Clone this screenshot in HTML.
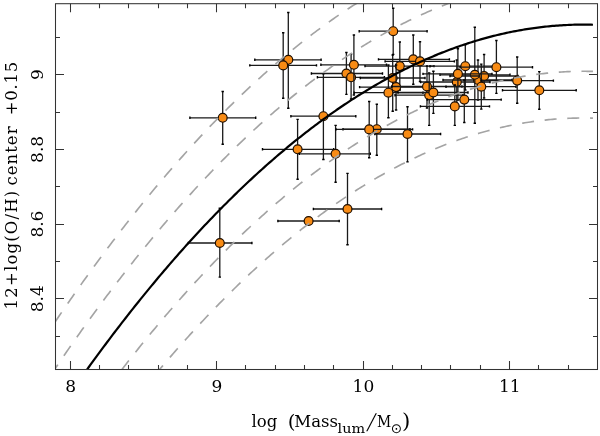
<!DOCTYPE html>
<html><head><meta charset="utf-8"><style>
html,body{margin:0;padding:0;background:#fff;width:600px;height:436px;overflow:hidden}
svg{display:block;will-change:transform}
</style></head><body>
<svg width="600" height="436" viewBox="0 0 600 436">
<defs><clipPath id="c"><rect x="55.5" y="3.7" width="542.0" height="365.8"/></clipPath></defs>
<path d="M188.3,243.0H251.9M219.8,208.3V277.1" stroke="#1a1a1a" stroke-width="1.3" fill="none"/><path d="M188.3,241.8V244.2M251.9,241.8V244.2M218.6,208.3H221.0M218.6,277.1H221.0" stroke="#000" stroke-width="1.4" fill="none"/>
<circle cx="219.8" cy="243.0" r="4.45" fill="#f88b14" stroke="#1e0e00" stroke-width="1.2"/>
<path d="M189.9,117.8H255.7M222.7,91.5V144.2" stroke="#1a1a1a" stroke-width="1.3" fill="none"/><path d="M189.9,116.6V119.0M255.7,116.6V119.0M221.5,91.5H223.9M221.5,144.2H223.9" stroke="#000" stroke-width="1.4" fill="none"/>
<circle cx="222.7" cy="117.8" r="4.45" fill="#f88b14" stroke="#1e0e00" stroke-width="1.2"/>
<path d="M262.5,149.3H333.7M297.6,119.4V179.2" stroke="#1a1a1a" stroke-width="1.3" fill="none"/><path d="M262.5,148.1V150.5M333.7,148.1V150.5M296.4,119.4H298.8M296.4,179.2H298.8" stroke="#000" stroke-width="1.4" fill="none"/>
<circle cx="297.6" cy="149.3" r="4.45" fill="#f88b14" stroke="#1e0e00" stroke-width="1.2"/>
<path d="M299.3,153.8H370.3M335.6,125.4V182.2" stroke="#1a1a1a" stroke-width="1.3" fill="none"/><path d="M299.3,152.6V155.0M370.3,152.6V155.0M334.4,125.4H336.8M334.4,182.2H336.8" stroke="#000" stroke-width="1.4" fill="none"/>
<circle cx="335.6" cy="153.8" r="4.45" fill="#f88b14" stroke="#1e0e00" stroke-width="1.2"/>
<path d="M290.9,116.2H355.8M323.4,73.8V159.5" stroke="#1a1a1a" stroke-width="1.3" fill="none"/><path d="M290.9,115.0V117.4M355.8,115.0V117.4M322.2,73.8H324.6M322.2,159.5H324.6" stroke="#000" stroke-width="1.4" fill="none"/>
<circle cx="323.4" cy="116.2" r="4.45" fill="#f88b14" stroke="#1e0e00" stroke-width="1.2"/>
<path d="M254.8,59.8H321.1M288.3,12.5V108.3" stroke="#1a1a1a" stroke-width="1.3" fill="none"/><path d="M254.8,58.6V61.0M321.1,58.6V61.0M287.1,12.5H289.5M287.1,108.3H289.5" stroke="#000" stroke-width="1.4" fill="none"/>
<circle cx="288.3" cy="59.8" r="4.45" fill="#f88b14" stroke="#1e0e00" stroke-width="1.2"/>
<path d="M249.8,65.4H316.5M283.2,32.7V98.3" stroke="#1a1a1a" stroke-width="1.3" fill="none"/><path d="M249.8,64.2V66.6M316.5,64.2V66.6M282.0,32.7H284.4M282.0,98.3H284.4" stroke="#000" stroke-width="1.4" fill="none"/>
<circle cx="283.2" cy="65.4" r="4.45" fill="#f88b14" stroke="#1e0e00" stroke-width="1.2"/>
<path d="M311.4,73.5H382.5M346.4,52.5V94.4" stroke="#1a1a1a" stroke-width="1.3" fill="none"/><path d="M311.4,72.3V74.7M382.5,72.3V74.7M345.2,52.5H347.6M345.2,94.4H347.6" stroke="#000" stroke-width="1.4" fill="none"/>
<circle cx="346.4" cy="73.5" r="4.45" fill="#f88b14" stroke="#1e0e00" stroke-width="1.2"/>
<path d="M317.4,77.3H384.4M351.1,54.1V99.0" stroke="#1a1a1a" stroke-width="1.3" fill="none"/><path d="M317.4,76.1V78.5M384.4,76.1V78.5M349.9,54.1H352.3M349.9,99.0H352.3" stroke="#000" stroke-width="1.4" fill="none"/>
<circle cx="351.1" cy="77.3" r="4.45" fill="#f88b14" stroke="#1e0e00" stroke-width="1.2"/>
<path d="M320.9,64.8H386.5M353.9,35.0V95.0" stroke="#1a1a1a" stroke-width="1.3" fill="none"/><path d="M320.9,63.6V66.0M386.5,63.6V66.0M352.7,35.0H355.1M352.7,95.0H355.1" stroke="#000" stroke-width="1.4" fill="none"/>
<circle cx="353.9" cy="64.8" r="4.45" fill="#f88b14" stroke="#1e0e00" stroke-width="1.2"/>
<path d="M359.2,31.2H427.1M393.2,8.3V54.4" stroke="#1a1a1a" stroke-width="1.3" fill="none"/><path d="M359.2,30.0V32.4M427.1,30.0V32.4M392.0,8.3H394.4M392.0,54.4H394.4" stroke="#000" stroke-width="1.4" fill="none"/>
<circle cx="393.2" cy="31.2" r="4.45" fill="#f88b14" stroke="#1e0e00" stroke-width="1.2"/>
<path d="M365.0,66.1H434.0M399.8,42.0V90.0" stroke="#1a1a1a" stroke-width="1.3" fill="none"/><path d="M365.0,64.9V67.3M434.0,64.9V67.3M398.6,42.0H401.0M398.6,90.0H401.0" stroke="#000" stroke-width="1.4" fill="none"/>
<circle cx="399.8" cy="66.1" r="4.45" fill="#f88b14" stroke="#1e0e00" stroke-width="1.2"/>
<path d="M378.5,59.4H449.4M413.3,35.0V84.3" stroke="#1a1a1a" stroke-width="1.3" fill="none"/><path d="M378.5,58.2V60.6M449.4,58.2V60.6M412.1,35.0H414.5M412.1,84.3H414.5" stroke="#000" stroke-width="1.4" fill="none"/>
<circle cx="413.3" cy="59.4" r="4.45" fill="#f88b14" stroke="#1e0e00" stroke-width="1.2"/>
<path d="M385.1,61.4H454.4M420.0,41.7V81.5" stroke="#1a1a1a" stroke-width="1.3" fill="none"/><path d="M385.1,60.2V62.6M454.4,60.2V62.6M418.8,41.7H421.2M418.8,81.5H421.2" stroke="#000" stroke-width="1.4" fill="none"/>
<circle cx="420.0" cy="61.4" r="4.45" fill="#f88b14" stroke="#1e0e00" stroke-width="1.2"/>
<path d="M360.3,78.0H425.0M392.7,55.0V111.3" stroke="#1a1a1a" stroke-width="1.3" fill="none"/><path d="M360.3,76.8V79.2M425.0,76.8V79.2M391.5,55.0H393.9M391.5,111.3H393.9" stroke="#000" stroke-width="1.4" fill="none"/>
<circle cx="392.7" cy="78.0" r="4.45" fill="#f88b14" stroke="#1e0e00" stroke-width="1.2"/>
<path d="M359.6,87.1H430.0M396.1,65.0V110.0" stroke="#1a1a1a" stroke-width="1.3" fill="none"/><path d="M359.6,85.9V88.3M430.0,85.9V88.3M394.9,65.0H397.3M394.9,110.0H397.3" stroke="#000" stroke-width="1.4" fill="none"/>
<circle cx="396.1" cy="87.1" r="4.45" fill="#f88b14" stroke="#1e0e00" stroke-width="1.2"/>
<path d="M354.2,92.7H423.0M388.4,65.0V117.8" stroke="#1a1a1a" stroke-width="1.3" fill="none"/><path d="M354.2,91.5V93.9M423.0,91.5V93.9M387.2,65.0H389.6M387.2,117.8H389.6" stroke="#000" stroke-width="1.4" fill="none"/>
<circle cx="388.4" cy="92.7" r="4.45" fill="#f88b14" stroke="#1e0e00" stroke-width="1.2"/>
<path d="M392.0,86.5H462.0M427.0,66.0V108.0" stroke="#1a1a1a" stroke-width="1.3" fill="none"/><path d="M392.0,85.3V87.7M462.0,85.3V87.7M425.8,66.0H428.2M425.8,108.0H428.2" stroke="#000" stroke-width="1.4" fill="none"/>
<circle cx="427.0" cy="86.5" r="4.45" fill="#f88b14" stroke="#1e0e00" stroke-width="1.2"/>
<path d="M395.0,95.2H463.0M429.2,73.0V125.4" stroke="#1a1a1a" stroke-width="1.3" fill="none"/><path d="M395.0,94.0V96.4M463.0,94.0V96.4M428.0,73.0H430.4M428.0,125.4H430.4" stroke="#000" stroke-width="1.4" fill="none"/>
<circle cx="429.2" cy="95.2" r="4.45" fill="#f88b14" stroke="#1e0e00" stroke-width="1.2"/>
<path d="M398.0,92.5H468.0M433.4,71.2V113.4" stroke="#1a1a1a" stroke-width="1.3" fill="none"/><path d="M398.0,91.3V93.7M468.0,91.3V93.7M432.2,71.2H434.6M432.2,113.4H434.6" stroke="#000" stroke-width="1.4" fill="none"/>
<circle cx="433.4" cy="92.5" r="4.45" fill="#f88b14" stroke="#1e0e00" stroke-width="1.2"/>
<path d="M430.0,66.2H500.0M465.3,44.7V90.0" stroke="#1a1a1a" stroke-width="1.3" fill="none"/><path d="M430.0,65.0V67.4M500.0,65.0V67.4M464.1,44.7H466.5M464.1,90.0H466.5" stroke="#000" stroke-width="1.4" fill="none"/>
<circle cx="465.3" cy="66.2" r="4.45" fill="#f88b14" stroke="#1e0e00" stroke-width="1.2"/>
<path d="M420.6,82.0H490.0M456.8,60.0V106.0" stroke="#1a1a1a" stroke-width="1.3" fill="none"/><path d="M420.6,80.8V83.2M490.0,80.8V83.2M455.6,60.0H458.0M455.6,106.0H458.0" stroke="#000" stroke-width="1.4" fill="none"/>
<circle cx="456.8" cy="82.0" r="4.45" fill="#f88b14" stroke="#1e0e00" stroke-width="1.2"/>
<path d="M443.0,80.0H512.0M478.0,60.0V100.0" stroke="#1a1a1a" stroke-width="1.3" fill="none"/><path d="M443.0,78.8V81.2M512.0,78.8V81.2M476.8,60.0H479.2M476.8,100.0H479.2" stroke="#000" stroke-width="1.4" fill="none"/>
<circle cx="478.0" cy="80.0" r="4.45" fill="#f88b14" stroke="#1e0e00" stroke-width="1.2"/>
<path d="M440.0,74.8H510.0M474.8,27.3V123.2" stroke="#1a1a1a" stroke-width="1.3" fill="none"/><path d="M440.0,73.6V76.0M510.0,73.6V76.0M473.6,27.3H476.0M473.6,123.2H476.0" stroke="#000" stroke-width="1.4" fill="none"/>
<circle cx="474.8" cy="74.8" r="4.45" fill="#f88b14" stroke="#1e0e00" stroke-width="1.2"/>
<path d="M450.0,76.0H518.0M484.1,54.5V98.0" stroke="#1a1a1a" stroke-width="1.3" fill="none"/><path d="M450.0,74.8V77.2M518.0,74.8V77.2M482.9,54.5H485.3M482.9,98.0H485.3" stroke="#000" stroke-width="1.4" fill="none"/>
<circle cx="484.1" cy="76.0" r="4.45" fill="#f88b14" stroke="#1e0e00" stroke-width="1.2"/>
<path d="M423.0,73.9H492.0M457.9,48.7V100.0" stroke="#1a1a1a" stroke-width="1.3" fill="none"/><path d="M423.0,72.7V75.1M492.0,72.7V75.1M456.7,48.7H459.1M456.7,100.0H459.1" stroke="#000" stroke-width="1.4" fill="none"/>
<circle cx="457.9" cy="73.9" r="4.45" fill="#f88b14" stroke="#1e0e00" stroke-width="1.2"/>
<path d="M446.0,86.7H516.0M481.3,64.1V109.1" stroke="#1a1a1a" stroke-width="1.3" fill="none"/><path d="M446.0,85.5V87.9M516.0,85.5V87.9M480.1,64.1H482.5M480.1,109.1H482.5" stroke="#000" stroke-width="1.4" fill="none"/>
<circle cx="481.3" cy="86.7" r="4.45" fill="#f88b14" stroke="#1e0e00" stroke-width="1.2"/>
<path d="M460.0,67.2H532.5M496.4,40.5V93.4" stroke="#1a1a1a" stroke-width="1.3" fill="none"/><path d="M460.0,66.0V68.4M532.5,66.0V68.4M495.2,40.5H497.6M495.2,93.4H497.6" stroke="#000" stroke-width="1.4" fill="none"/>
<circle cx="496.4" cy="67.2" r="4.45" fill="#f88b14" stroke="#1e0e00" stroke-width="1.2"/>
<path d="M481.0,80.6H553.4M517.2,57.0V103.3" stroke="#1a1a1a" stroke-width="1.3" fill="none"/><path d="M481.0,79.4V81.8M553.4,79.4V81.8M516.0,57.0H518.4M516.0,103.3H518.4" stroke="#000" stroke-width="1.4" fill="none"/>
<circle cx="517.2" cy="80.6" r="4.45" fill="#f88b14" stroke="#1e0e00" stroke-width="1.2"/>
<path d="M502.5,90.3H576.2M539.3,71.6V109.2" stroke="#1a1a1a" stroke-width="1.3" fill="none"/><path d="M502.5,89.1V91.5M576.2,89.1V91.5M538.1,71.6H540.5M538.1,109.2H540.5" stroke="#000" stroke-width="1.4" fill="none"/>
<circle cx="539.3" cy="90.3" r="4.45" fill="#f88b14" stroke="#1e0e00" stroke-width="1.2"/>
<path d="M427.2,99.6H501.2M464.3,80.0V122.5" stroke="#1a1a1a" stroke-width="1.3" fill="none"/><path d="M427.2,98.4V100.8M501.2,98.4V100.8M463.1,80.0H465.5M463.1,122.5H465.5" stroke="#000" stroke-width="1.4" fill="none"/>
<circle cx="464.3" cy="99.6" r="4.45" fill="#f88b14" stroke="#1e0e00" stroke-width="1.2"/>
<path d="M420.4,106.4H489.5M454.8,85.0V125.4" stroke="#1a1a1a" stroke-width="1.3" fill="none"/><path d="M420.4,105.2V107.6M489.5,105.2V107.6M453.6,85.0H456.0M453.6,125.4H456.0" stroke="#000" stroke-width="1.4" fill="none"/>
<circle cx="454.8" cy="106.4" r="4.45" fill="#f88b14" stroke="#1e0e00" stroke-width="1.2"/>
<path d="M374.8,134.0H440.6M407.5,106.8V161.9" stroke="#1a1a1a" stroke-width="1.3" fill="none"/><path d="M374.8,132.8V135.2M440.6,132.8V135.2M406.3,106.8H408.7M406.3,161.9H408.7" stroke="#000" stroke-width="1.4" fill="none"/>
<circle cx="407.5" cy="134.0" r="4.45" fill="#f88b14" stroke="#1e0e00" stroke-width="1.2"/>
<path d="M343.0,129.2H410.0M376.8,104.2V155.2" stroke="#1a1a1a" stroke-width="1.3" fill="none"/><path d="M343.0,128.0V130.4M410.0,128.0V130.4M375.6,104.2H378.0M375.6,155.2H378.0" stroke="#000" stroke-width="1.4" fill="none"/>
<circle cx="376.8" cy="129.2" r="4.45" fill="#f88b14" stroke="#1e0e00" stroke-width="1.2"/>
<path d="M336.0,129.4H412.6M369.2,101.5V157.8" stroke="#1a1a1a" stroke-width="1.3" fill="none"/><path d="M336.0,128.2V130.6M412.6,128.2V130.6M368.0,101.5H370.4M368.0,157.8H370.4" stroke="#000" stroke-width="1.4" fill="none"/>
<circle cx="369.2" cy="129.4" r="4.45" fill="#f88b14" stroke="#1e0e00" stroke-width="1.2"/>
<path d="M313.4,209.0H381.6M347.5,173.4V244.7" stroke="#1a1a1a" stroke-width="1.3" fill="none"/><path d="M313.4,207.8V210.2M381.6,207.8V210.2M346.3,173.4H348.7M346.3,244.7H348.7" stroke="#000" stroke-width="1.4" fill="none"/>
<circle cx="347.5" cy="209.0" r="4.45" fill="#f88b14" stroke="#1e0e00" stroke-width="1.2"/>
<path d="M277.9,221.0H339.2M308.6,221.0V221.0" stroke="#1a1a1a" stroke-width="1.3" fill="none"/><path d="M277.9,219.8V222.2M339.2,219.8V222.2M307.4,221.0H309.8M307.4,221.0H309.8" stroke="#000" stroke-width="1.4" fill="none"/>
<circle cx="308.6" cy="221.0" r="4.45" fill="#f88b14" stroke="#1e0e00" stroke-width="1.2"/>
<g clip-path="url(#c)" fill="none">
<path d="M41.02,343.03 L42.86,340.24 L44.70,337.46 L46.54,334.69 L48.38,331.94 L50.22,329.19 L52.06,326.44 L53.90,323.71 L55.74,320.99 L57.58,318.28 L59.42,315.58 L61.26,312.89 L63.10,310.20 L64.94,307.53 L66.78,304.86 L68.62,302.21 L70.46,299.56 L72.30,296.93 L74.14,294.30 L75.98,291.68 L77.82,289.07 L79.65,286.48 L81.49,283.89 L83.33,281.31 L85.17,278.74 L87.01,276.18 L88.85,273.63 L90.69,271.08 L92.53,268.55 L94.37,266.03 L96.21,263.52 L98.05,261.01 L99.89,258.52 L101.73,256.03 L103.57,253.56 L105.41,251.09 L107.25,248.64 L109.09,246.19 L110.93,243.75 L112.77,241.32 L114.61,238.91 L116.45,236.50 L118.29,234.10 L120.13,231.71 L121.97,229.33 L123.81,226.96 L125.65,224.59 L127.49,222.24 L129.33,219.90 L131.17,217.57 L133.01,215.24 L134.85,212.93 L136.69,210.62 L138.53,208.33 L140.37,206.04 L142.21,203.76 L144.05,201.50 L145.89,199.24 L147.73,196.99 L149.57,194.75 L151.41,192.52 L153.25,190.30 L155.09,188.09 L156.92,185.89 L158.76,183.70 L160.60,181.52 L162.44,179.35 L164.28,177.19 L166.12,175.03 L167.96,172.89 L169.80,170.75 L171.64,168.63 L173.48,166.51 L175.32,164.41 L177.16,162.31 L179.00,160.22 L180.84,158.15 L182.68,156.08 L184.52,154.02 L186.36,151.97 L188.20,149.93 L190.04,147.90 L191.88,145.88 L193.72,143.87 L195.56,141.87 L197.40,139.87 L199.24,137.89 L201.08,135.92 L202.92,133.95 L204.76,132.00 L206.60,130.05 L208.44,128.12 L210.28,126.19 L212.12,124.28 L213.96,122.37 L215.80,120.47 L217.64,118.58 L219.48,116.70 L221.32,114.83 L223.16,112.97 L225.00,111.12 L226.84,109.28 L228.68,107.45 L230.52,105.63 L232.36,103.82 L234.19,102.01 L236.03,100.22 L237.87,98.44 L239.71,96.66 L241.55,94.90 L243.39,93.14 L245.23,91.39 L247.07,89.66 L248.91,87.93 L250.75,86.21 L252.59,84.50 L254.43,82.80 L256.27,81.12 L258.11,79.44 L259.95,77.77 L261.79,76.10 L263.63,74.45 L265.47,72.81 L267.31,71.18 L269.15,69.55 L270.99,67.94 L272.83,66.34 L274.67,64.74 L276.51,63.16 L278.35,61.58 L280.19,60.01 L282.03,58.46 L283.87,56.91 L285.71,55.37 L287.55,53.84 L289.39,52.32 L291.23,50.82 L293.07,49.32 L294.91,47.82 L296.75,46.34 L298.59,44.87 L300.43,43.41 L302.27,41.96 L304.11,40.51 L305.95,39.08 L307.79,37.66 L309.62,36.24 L311.46,34.84 L313.30,33.44 L315.14,32.05 L316.98,30.68 L318.82,29.31 L320.66,27.95 L322.50,26.60 L324.34,25.26 L326.18,23.93 L328.02,22.61 L329.86,21.30 L331.70,20.00 L333.54,18.71 L335.38,17.43 L337.22,16.15 L339.06,14.89 L340.90,13.64 L342.74,12.39 L344.58,11.16 L346.42,9.93 L348.26,8.72 L350.10,7.51 L351.94,6.31 L353.78,5.12 L355.62,3.95 L357.46,2.78 L359.30,1.62 L361.14,0.47 L362.98,-0.67 L364.82,-1.80 L366.66,-2.92 L368.50,-4.04 L370.34,-5.14 L372.18,-6.23 L374.02,-7.31 L375.86,-8.39 L377.70,-9.45 L379.54,-10.51 L381.38,-11.55 L383.22,-12.59 L385.06,-13.62 L386.89,-14.63 L388.73,-15.64 L390.57,-16.64 L392.41,-17.63 L394.25,-18.61 L396.09,-19.58 L397.93,-20.54 L399.77,-21.49 L401.61,-22.43 L403.45,-23.36 L405.29,-24.29 L407.13,-25.20 L408.97,-26.10 L410.81,-27.00 L412.65,-27.88 L414.49,-28.76 L416.33,-29.62 L418.17,-30.48 L420.01,-31.32 L421.85,-32.16 L423.69,-32.99 L425.53,-33.81 L427.37,-34.62 L429.21,-35.42 L431.05,-36.21 L432.89,-36.99 L434.73,-37.76 L436.57,-38.52 L438.41,-39.27 L440.25,-40.01 L442.09,-40.75 L443.93,-41.47 L445.77,-42.19 L447.61,-42.89 L449.45,-43.59 L451.29,-44.27 L453.13,-44.95 L454.97,-45.61 L456.81,-46.27 L458.65,-46.92 L460.49,-47.56 L462.33,-48.19 L464.16,-48.81 L466.00,-49.42 L467.84,-50.02 L469.68,-50.61 L471.52,-51.19 L473.36,-51.76 L475.20,-52.33 L477.04,-52.88 L478.88,-53.42 L480.72,-53.96 L482.56,-54.48 L484.40,-55.00 L486.24,-55.50 L488.08,-56.00 L489.92,-56.49 L491.76,-56.96 L493.60,-57.43 L495.44,-57.89 L497.28,-58.34 L499.12,-58.78 L500.96,-59.21 L502.80,-59.63 L504.64,-60.04 L506.48,-60.44 L508.32,-60.84 L510.16,-61.22 L512.00,-61.59 L513.84,-61.96 L515.68,-62.31 L517.52,-62.65 L519.36,-62.99 L521.20,-63.32 L523.04,-63.63 L524.88,-63.94 L526.72,-64.24 L528.56,-64.53 L530.40,-64.80 L532.24,-65.07 L534.08,-65.33 L535.92,-65.58 L537.76,-65.82 L539.59,-66.06 L541.43,-66.28 L543.27,-66.49 L545.11,-66.69 L546.95,-66.89 L548.79,-67.07 L550.63,-67.25 L552.47,-67.41 L554.31,-67.57 L556.15,-67.71 L557.99,-67.85 L559.83,-67.98 L561.67,-68.09 L563.51,-68.20 L565.35,-68.30 L567.19,-68.39 L569.03,-68.47 L570.87,-68.54 L572.71,-68.60 L574.55,-68.65 L576.39,-68.69 L578.23,-68.73 L580.07,-68.75 L581.91,-68.76 L583.75,-68.77 L585.59,-68.76 L587.43,-68.75 L589.27,-68.72 L591.11,-68.69 L592.95,-68.65" stroke="#a4a4a4" stroke-width="1.65" stroke-dasharray="12 10.7" stroke-dashoffset="20.5"/>
<path d="M41.02,389.72 L42.86,386.93 L44.70,384.15 L46.54,381.38 L48.38,378.62 L50.22,375.87 L52.06,373.13 L53.90,370.40 L55.74,367.68 L57.58,364.97 L59.42,362.27 L61.26,359.57 L63.10,356.89 L64.94,354.21 L66.78,351.55 L68.62,348.90 L70.46,346.25 L72.30,343.61 L74.14,340.99 L75.98,338.37 L77.82,335.76 L79.65,333.16 L81.49,330.57 L83.33,327.99 L85.17,325.42 L87.01,322.86 L88.85,320.31 L90.69,317.77 L92.53,315.24 L94.37,312.72 L96.21,310.20 L98.05,307.70 L99.89,305.21 L101.73,302.72 L103.57,300.25 L105.41,297.78 L107.25,295.32 L109.09,292.88 L110.93,290.44 L112.77,288.01 L114.61,285.59 L116.45,283.18 L118.29,280.78 L120.13,278.39 L121.97,276.01 L123.81,273.64 L125.65,271.28 L127.49,268.93 L129.33,266.59 L131.17,264.25 L133.01,261.93 L134.85,259.61 L136.69,257.31 L138.53,255.01 L140.37,252.73 L142.21,250.45 L144.05,248.18 L145.89,245.93 L147.73,243.68 L149.57,241.44 L151.41,239.21 L153.25,236.99 L155.09,234.78 L156.92,232.58 L158.76,230.39 L160.60,228.21 L162.44,226.04 L164.28,223.87 L166.12,221.72 L167.96,219.58 L169.80,217.44 L171.64,215.32 L173.48,213.20 L175.32,211.09 L177.16,209.00 L179.00,206.91 L180.84,204.83 L182.68,202.77 L184.52,200.71 L186.36,198.66 L188.20,196.62 L190.04,194.59 L191.88,192.57 L193.72,190.56 L195.56,188.55 L197.40,186.56 L199.24,184.58 L201.08,182.60 L202.92,180.64 L204.76,178.69 L206.60,176.74 L208.44,174.81 L210.28,172.88 L212.12,170.96 L213.96,169.06 L215.80,167.16 L217.64,165.27 L219.48,163.39 L221.32,161.52 L223.16,159.66 L225.00,157.81 L226.84,155.97 L228.68,154.14 L230.52,152.32 L232.36,150.50 L234.19,148.70 L236.03,146.91 L237.87,145.12 L239.71,143.35 L241.55,141.58 L243.39,139.83 L245.23,138.08 L247.07,136.34 L248.91,134.62 L250.75,132.90 L252.59,131.19 L254.43,129.49 L256.27,127.80 L258.11,126.12 L259.95,124.45 L261.79,122.79 L263.63,121.14 L265.47,119.50 L267.31,117.87 L269.15,116.24 L270.99,114.63 L272.83,113.02 L274.67,111.43 L276.51,109.84 L278.35,108.27 L280.19,106.70 L282.03,105.15 L283.87,103.60 L285.71,102.06 L287.55,100.53 L289.39,99.01 L291.23,97.50 L293.07,96.00 L294.91,94.51 L296.75,93.03 L298.59,91.56 L300.43,90.10 L302.27,88.64 L304.11,87.20 L305.95,85.77 L307.79,84.34 L309.62,82.93 L311.46,81.52 L313.30,80.13 L315.14,78.74 L316.98,77.36 L318.82,76.00 L320.66,74.64 L322.50,73.29 L324.34,71.95 L326.18,70.62 L328.02,69.30 L329.86,67.99 L331.70,66.69 L333.54,65.40 L335.38,64.11 L337.22,62.84 L339.06,61.58 L340.90,60.32 L342.74,59.08 L344.58,57.84 L346.42,56.62 L348.26,55.40 L350.10,54.20 L351.94,53.00 L353.78,51.81 L355.62,50.63 L357.46,49.47 L359.30,48.31 L361.14,47.16 L362.98,46.02 L364.82,44.88 L366.66,43.76 L368.50,42.65 L370.34,41.55 L372.18,40.46 L374.02,39.37 L375.86,38.30 L377.70,37.23 L379.54,36.18 L381.38,35.13 L383.22,34.10 L385.06,33.07 L386.89,32.05 L388.73,31.05 L390.57,30.05 L392.41,29.06 L394.25,28.08 L396.09,27.11 L397.93,26.15 L399.77,25.20 L401.61,24.26 L403.45,23.32 L405.29,22.40 L407.13,21.49 L408.97,20.59 L410.81,19.69 L412.65,18.81 L414.49,17.93 L416.33,17.07 L418.17,16.21 L420.01,15.36 L421.85,14.53 L423.69,13.70 L425.53,12.88 L427.37,12.07 L429.21,11.27 L431.05,10.48 L432.89,9.70 L434.73,8.93 L436.57,8.17 L438.41,7.42 L440.25,6.67 L442.09,5.94 L443.93,5.22 L445.77,4.50 L447.61,3.80 L449.45,3.10 L451.29,2.42 L453.13,1.74 L454.97,1.07 L456.81,0.42 L458.65,-0.23 L460.49,-0.87 L462.33,-1.50 L464.16,-2.12 L466.00,-2.73 L467.84,-3.33 L469.68,-3.92 L471.52,-4.50 L473.36,-5.07 L475.20,-5.64 L477.04,-6.19 L478.88,-6.73 L480.72,-7.27 L482.56,-7.79 L484.40,-8.31 L486.24,-8.82 L488.08,-9.31 L489.92,-9.80 L491.76,-10.28 L493.60,-10.74 L495.44,-11.20 L497.28,-11.65 L499.12,-12.09 L500.96,-12.52 L502.80,-12.94 L504.64,-13.35 L506.48,-13.76 L508.32,-14.15 L510.16,-14.53 L512.00,-14.90 L513.84,-15.27 L515.68,-15.62 L517.52,-15.97 L519.36,-16.30 L521.20,-16.63 L523.04,-16.95 L524.88,-17.25 L526.72,-17.55 L528.56,-17.84 L530.40,-18.12 L532.24,-18.39 L534.08,-18.65 L535.92,-18.90 L537.76,-19.14 L539.59,-19.37 L541.43,-19.59 L543.27,-19.80 L545.11,-20.01 L546.95,-20.20 L548.79,-20.38 L550.63,-20.56 L552.47,-20.72 L554.31,-20.88 L556.15,-21.02 L557.99,-21.16 L559.83,-21.29 L561.67,-21.41 L563.51,-21.51 L565.35,-21.61 L567.19,-21.70 L569.03,-21.78 L570.87,-21.85 L572.71,-21.91 L574.55,-21.97 L576.39,-22.01 L578.23,-22.04 L580.07,-22.06 L581.91,-22.08 L583.75,-22.08 L585.59,-22.08 L587.43,-22.06 L589.27,-22.04 L591.11,-22.00 L592.95,-21.96" stroke="#a4a4a4" stroke-width="1.65" stroke-dasharray="12 10.7" stroke-dashoffset="4.5"/>
<path d="M41.02,483.09 L42.86,480.30 L44.70,477.53 L46.54,474.76 L48.38,472.00 L50.22,469.25 L52.06,466.51 L53.90,463.78 L55.74,461.06 L57.58,458.34 L59.42,455.64 L61.26,452.95 L63.10,450.26 L64.94,447.59 L66.78,444.93 L68.62,442.27 L70.46,439.62 L72.30,436.99 L74.14,434.36 L75.98,431.74 L77.82,429.14 L79.65,426.54 L81.49,423.95 L83.33,421.37 L85.17,418.80 L87.01,416.24 L88.85,413.69 L90.69,411.15 L92.53,408.61 L94.37,406.09 L96.21,403.58 L98.05,401.07 L99.89,398.58 L101.73,396.10 L103.57,393.62 L105.41,391.15 L107.25,388.70 L109.09,386.25 L110.93,383.81 L112.77,381.39 L114.61,378.97 L116.45,376.56 L118.29,374.16 L120.13,371.77 L121.97,369.39 L123.81,367.02 L125.65,364.66 L127.49,362.30 L129.33,359.96 L131.17,357.63 L133.01,355.30 L134.85,352.99 L136.69,350.68 L138.53,348.39 L140.37,346.10 L142.21,343.83 L144.05,341.56 L145.89,339.30 L147.73,337.05 L149.57,334.82 L151.41,332.59 L153.25,330.37 L155.09,328.16 L156.92,325.96 L158.76,323.76 L160.60,321.58 L162.44,319.41 L164.28,317.25 L166.12,315.09 L167.96,312.95 L169.80,310.82 L171.64,308.69 L173.48,306.58 L175.32,304.47 L177.16,302.37 L179.00,300.29 L180.84,298.21 L182.68,296.14 L184.52,294.08 L186.36,292.03 L188.20,289.99 L190.04,287.96 L191.88,285.94 L193.72,283.93 L195.56,281.93 L197.40,279.94 L199.24,277.95 L201.08,275.98 L202.92,274.02 L204.76,272.06 L206.60,270.12 L208.44,268.18 L210.28,266.25 L212.12,264.34 L213.96,262.43 L215.80,260.53 L217.64,258.64 L219.48,256.77 L221.32,254.90 L223.16,253.04 L225.00,251.19 L226.84,249.35 L228.68,247.51 L230.52,245.69 L232.36,243.88 L234.19,242.08 L236.03,240.28 L237.87,238.50 L239.71,236.72 L241.55,234.96 L243.39,233.20 L245.23,231.46 L247.07,229.72 L248.91,227.99 L250.75,226.27 L252.59,224.57 L254.43,222.87 L256.27,221.18 L258.11,219.50 L259.95,217.83 L261.79,216.17 L263.63,214.52 L265.47,212.87 L267.31,211.24 L269.15,209.62 L270.99,208.00 L272.83,206.40 L274.67,204.80 L276.51,203.22 L278.35,201.64 L280.19,200.08 L282.03,198.52 L283.87,196.97 L285.71,195.43 L287.55,193.91 L289.39,192.39 L291.23,190.88 L293.07,189.38 L294.91,187.89 L296.75,186.41 L298.59,184.93 L300.43,183.47 L302.27,182.02 L304.11,180.58 L305.95,179.14 L307.79,177.72 L309.62,176.30 L311.46,174.90 L313.30,173.50 L315.14,172.12 L316.98,170.74 L318.82,169.37 L320.66,168.01 L322.50,166.66 L324.34,165.33 L326.18,164.00 L328.02,162.68 L329.86,161.36 L331.70,160.06 L333.54,158.77 L335.38,157.49 L337.22,156.22 L339.06,154.95 L340.90,153.70 L342.74,152.45 L344.58,151.22 L346.42,149.99 L348.26,148.78 L350.10,147.57 L351.94,146.37 L353.78,145.19 L355.62,144.01 L357.46,142.84 L359.30,141.68 L361.14,140.53 L362.98,139.39 L364.82,138.26 L366.66,137.14 L368.50,136.03 L370.34,134.92 L372.18,133.83 L374.02,132.75 L375.86,131.67 L377.70,130.61 L379.54,129.55 L381.38,128.51 L383.22,127.47 L385.06,126.45 L386.89,125.43 L388.73,124.42 L390.57,123.42 L392.41,122.43 L394.25,121.45 L396.09,120.48 L397.93,119.52 L399.77,118.57 L401.61,117.63 L403.45,116.70 L405.29,115.78 L407.13,114.86 L408.97,113.96 L410.81,113.07 L412.65,112.18 L414.49,111.31 L416.33,110.44 L418.17,109.58 L420.01,108.74 L421.85,107.90 L423.69,107.07 L425.53,106.25 L427.37,105.45 L429.21,104.65 L431.05,103.86 L432.89,103.08 L434.73,102.30 L436.57,101.54 L438.41,100.79 L440.25,100.05 L442.09,99.32 L443.93,98.59 L445.77,97.88 L447.61,97.17 L449.45,96.48 L451.29,95.79 L453.13,95.12 L454.97,94.45 L456.81,93.79 L458.65,93.14 L460.49,92.50 L462.33,91.88 L464.16,91.26 L466.00,90.65 L467.84,90.05 L469.68,89.45 L471.52,88.87 L473.36,88.30 L475.20,87.74 L477.04,87.18 L478.88,86.64 L480.72,86.11 L482.56,85.58 L484.40,85.07 L486.24,84.56 L488.08,84.06 L489.92,83.58 L491.76,83.10 L493.60,82.63 L495.44,82.17 L497.28,81.72 L499.12,81.28 L500.96,80.85 L502.80,80.43 L504.64,80.02 L506.48,79.62 L508.32,79.23 L510.16,78.84 L512.00,78.47 L513.84,78.11 L515.68,77.75 L517.52,77.41 L519.36,77.07 L521.20,76.75 L523.04,76.43 L524.88,76.12 L526.72,75.82 L528.56,75.54 L530.40,75.26 L532.24,74.99 L534.08,74.73 L535.92,74.48 L537.76,74.24 L539.59,74.01 L541.43,73.78 L543.27,73.57 L545.11,73.37 L546.95,73.18 L548.79,72.99 L550.63,72.82 L552.47,72.65 L554.31,72.50 L556.15,72.35 L557.99,72.21 L559.83,72.09 L561.67,71.97 L563.51,71.86 L565.35,71.76 L567.19,71.67 L569.03,71.59 L570.87,71.52 L572.71,71.46 L574.55,71.41 L576.39,71.37 L578.23,71.34 L580.07,71.31 L581.91,71.30 L583.75,71.29 L585.59,71.30 L587.43,71.31 L589.27,71.34 L591.11,71.37 L592.95,71.42" stroke="#a4a4a4" stroke-width="1.65" stroke-dasharray="12 10.7" stroke-dashoffset="20.1"/>
<path d="M41.02,529.78 L42.86,526.99 L44.70,524.21 L46.54,521.44 L48.38,518.69 L50.22,515.94 L52.06,513.19 L53.90,510.46 L55.74,507.74 L57.58,505.03 L59.42,502.33 L61.26,499.64 L63.10,496.95 L64.94,494.28 L66.78,491.61 L68.62,488.96 L70.46,486.31 L72.30,483.68 L74.14,481.05 L75.98,478.43 L77.82,475.82 L79.65,473.23 L81.49,470.64 L83.33,468.06 L85.17,465.49 L87.01,462.93 L88.85,460.38 L90.69,457.83 L92.53,455.30 L94.37,452.78 L96.21,450.27 L98.05,447.76 L99.89,445.27 L101.73,442.78 L103.57,440.31 L105.41,437.84 L107.25,435.39 L109.09,432.94 L110.93,430.50 L112.77,428.07 L114.61,425.66 L116.45,423.25 L118.29,420.85 L120.13,418.46 L121.97,416.08 L123.81,413.71 L125.65,411.34 L127.49,408.99 L129.33,406.65 L131.17,404.32 L133.01,401.99 L134.85,399.68 L136.69,397.37 L138.53,395.08 L140.37,392.79 L142.21,390.51 L144.05,388.25 L145.89,385.99 L147.73,383.74 L149.57,381.50 L151.41,379.27 L153.25,377.05 L155.09,374.84 L156.92,372.64 L158.76,370.45 L160.60,368.27 L162.44,366.10 L164.28,363.94 L166.12,361.78 L167.96,359.64 L169.80,357.50 L171.64,355.38 L173.48,353.26 L175.32,351.16 L177.16,349.06 L179.00,346.97 L180.84,344.90 L182.68,342.83 L184.52,340.77 L186.36,338.72 L188.20,336.68 L190.04,334.65 L191.88,332.63 L193.72,330.62 L195.56,328.62 L197.40,326.62 L199.24,324.64 L201.08,322.67 L202.92,320.70 L204.76,318.75 L206.60,316.80 L208.44,314.87 L210.28,312.94 L212.12,311.03 L213.96,309.12 L215.80,307.22 L217.64,305.33 L219.48,303.45 L221.32,301.58 L223.16,299.72 L225.00,297.87 L226.84,296.03 L228.68,294.20 L230.52,292.38 L232.36,290.57 L234.19,288.76 L236.03,286.97 L237.87,285.19 L239.71,283.41 L241.55,281.65 L243.39,279.89 L245.23,278.14 L247.07,276.41 L248.91,274.68 L250.75,272.96 L252.59,271.25 L254.43,269.55 L256.27,267.87 L258.11,266.19 L259.95,264.52 L261.79,262.85 L263.63,261.20 L265.47,259.56 L267.31,257.93 L269.15,256.30 L270.99,254.69 L272.83,253.09 L274.67,251.49 L276.51,249.91 L278.35,248.33 L280.19,246.76 L282.03,245.21 L283.87,243.66 L285.71,242.12 L287.55,240.59 L289.39,239.07 L291.23,237.57 L293.07,236.07 L294.91,234.57 L296.75,233.09 L298.59,231.62 L300.43,230.16 L302.27,228.71 L304.11,227.26 L305.95,225.83 L307.79,224.41 L309.62,222.99 L311.46,221.59 L313.30,220.19 L315.14,218.80 L316.98,217.43 L318.82,216.06 L320.66,214.70 L322.50,213.35 L324.34,212.01 L326.18,210.68 L328.02,209.36 L329.86,208.05 L331.70,206.75 L333.54,205.46 L335.38,204.18 L337.22,202.90 L339.06,201.64 L340.90,200.39 L342.74,199.14 L344.58,197.91 L346.42,196.68 L348.26,195.47 L350.10,194.26 L351.94,193.06 L353.78,191.87 L355.62,190.70 L357.46,189.53 L359.30,188.37 L361.14,187.22 L362.98,186.08 L364.82,184.95 L366.66,183.83 L368.50,182.71 L370.34,181.61 L372.18,180.52 L374.02,179.44 L375.86,178.36 L377.70,177.30 L379.54,176.24 L381.38,175.20 L383.22,174.16 L385.06,173.13 L386.89,172.12 L388.73,171.11 L390.57,170.11 L392.41,169.12 L394.25,168.14 L396.09,167.17 L397.93,166.21 L399.77,165.26 L401.61,164.32 L403.45,163.39 L405.29,162.46 L407.13,161.55 L408.97,160.65 L410.81,159.75 L412.65,158.87 L414.49,157.99 L416.33,157.13 L418.17,156.27 L420.01,155.43 L421.85,154.59 L423.69,153.76 L425.53,152.94 L427.37,152.13 L429.21,151.33 L431.05,150.54 L432.89,149.76 L434.73,148.99 L436.57,148.23 L438.41,147.48 L440.25,146.74 L442.09,146.00 L443.93,145.28 L445.77,144.56 L447.61,143.86 L449.45,143.16 L451.29,142.48 L453.13,141.80 L454.97,141.14 L456.81,140.48 L458.65,139.83 L460.49,139.19 L462.33,138.56 L464.16,137.94 L466.00,137.33 L467.84,136.73 L469.68,136.14 L471.52,135.56 L473.36,134.99 L475.20,134.42 L477.04,133.87 L478.88,133.33 L480.72,132.79 L482.56,132.27 L484.40,131.75 L486.24,131.25 L488.08,130.75 L489.92,130.26 L491.76,129.79 L493.60,129.32 L495.44,128.86 L497.28,128.41 L499.12,127.97 L500.96,127.54 L502.80,127.12 L504.64,126.71 L506.48,126.31 L508.32,125.91 L510.16,125.53 L512.00,125.16 L513.84,124.79 L515.68,124.44 L517.52,124.10 L519.36,123.76 L521.20,123.43 L523.04,123.12 L524.88,122.81 L526.72,122.51 L528.56,122.22 L530.40,121.95 L532.24,121.68 L534.08,121.42 L535.92,121.17 L537.76,120.93 L539.59,120.69 L541.43,120.47 L543.27,120.26 L545.11,120.06 L546.95,119.86 L548.79,119.68 L550.63,119.50 L552.47,119.34 L554.31,119.18 L556.15,119.04 L557.99,118.90 L559.83,118.77 L561.67,118.66 L563.51,118.55 L565.35,118.45 L567.19,118.36 L569.03,118.28 L570.87,118.21 L572.71,118.15 L574.55,118.10 L576.39,118.06 L578.23,118.02 L580.07,118.00 L581.91,117.99 L583.75,117.98 L585.59,117.99 L587.43,118.00 L589.27,118.03 L591.11,118.06 L592.95,118.10" stroke="#a4a4a4" stroke-width="1.65" stroke-dasharray="12 10.7" stroke-dashoffset="11.6"/>
<path d="M41.02,436.40 L42.86,433.62 L44.70,430.84 L46.54,428.07 L48.38,425.31 L50.22,422.56 L52.06,419.82 L53.90,417.09 L55.74,414.37 L57.58,411.66 L59.42,408.95 L61.26,406.26 L63.10,403.58 L64.94,400.90 L66.78,398.24 L68.62,395.58 L70.46,392.94 L72.30,390.30 L74.14,387.67 L75.98,385.06 L77.82,382.45 L79.65,379.85 L81.49,377.26 L83.33,374.68 L85.17,372.11 L87.01,369.55 L88.85,367.00 L90.69,364.46 L92.53,361.93 L94.37,359.40 L96.21,356.89 L98.05,354.39 L99.89,351.89 L101.73,349.41 L103.57,346.93 L105.41,344.47 L107.25,342.01 L109.09,339.56 L110.93,337.13 L112.77,334.70 L114.61,332.28 L116.45,329.87 L118.29,327.47 L120.13,325.08 L121.97,322.70 L123.81,320.33 L125.65,317.97 L127.49,315.62 L129.33,313.27 L131.17,310.94 L133.01,308.62 L134.85,306.30 L136.69,304.00 L138.53,301.70 L140.37,299.42 L142.21,297.14 L144.05,294.87 L145.89,292.61 L147.73,290.37 L149.57,288.13 L151.41,285.90 L153.25,283.68 L155.09,281.47 L156.92,279.27 L158.76,277.08 L160.60,274.90 L162.44,272.72 L164.28,270.56 L166.12,268.41 L167.96,266.26 L169.80,264.13 L171.64,262.00 L173.48,259.89 L175.32,257.78 L177.16,255.69 L179.00,253.60 L180.84,251.52 L182.68,249.45 L184.52,247.39 L186.36,245.35 L188.20,243.31 L190.04,241.27 L191.88,239.25 L193.72,237.24 L195.56,235.24 L197.40,233.25 L199.24,231.27 L201.08,229.29 L202.92,227.33 L204.76,225.37 L206.60,223.43 L208.44,221.49 L210.28,219.57 L212.12,217.65 L213.96,215.74 L215.80,213.85 L217.64,211.96 L219.48,210.08 L221.32,208.21 L223.16,206.35 L225.00,204.50 L226.84,202.66 L228.68,200.83 L230.52,199.00 L232.36,197.19 L234.19,195.39 L236.03,193.60 L237.87,191.81 L239.71,190.04 L241.55,188.27 L243.39,186.52 L245.23,184.77 L247.07,183.03 L248.91,181.31 L250.75,179.59 L252.59,177.88 L254.43,176.18 L256.27,174.49 L258.11,172.81 L259.95,171.14 L261.79,169.48 L263.63,167.83 L265.47,166.19 L267.31,164.55 L269.15,162.93 L270.99,161.32 L272.83,159.71 L274.67,158.12 L276.51,156.53 L278.35,154.96 L280.19,153.39 L282.03,151.83 L283.87,150.29 L285.71,148.75 L287.55,147.22 L289.39,145.70 L291.23,144.19 L293.07,142.69 L294.91,141.20 L296.75,139.72 L298.59,138.25 L300.43,136.78 L302.27,135.33 L304.11,133.89 L305.95,132.45 L307.79,131.03 L309.62,129.62 L311.46,128.21 L313.30,126.81 L315.14,125.43 L316.98,124.05 L318.82,122.68 L320.66,121.33 L322.50,119.98 L324.34,118.64 L326.18,117.31 L328.02,115.99 L329.86,114.68 L331.70,113.38 L333.54,112.08 L335.38,110.80 L337.22,109.53 L339.06,108.27 L340.90,107.01 L342.74,105.77 L344.58,104.53 L346.42,103.31 L348.26,102.09 L350.10,100.88 L351.94,99.69 L353.78,98.50 L355.62,97.32 L357.46,96.15 L359.30,94.99 L361.14,93.84 L362.98,92.70 L364.82,91.57 L366.66,90.45 L368.50,89.34 L370.34,88.24 L372.18,87.14 L374.02,86.06 L375.86,84.99 L377.70,83.92 L379.54,82.87 L381.38,81.82 L383.22,80.79 L385.06,79.76 L386.89,78.74 L388.73,77.73 L390.57,76.74 L392.41,75.75 L394.25,74.77 L396.09,73.80 L397.93,72.84 L399.77,71.89 L401.61,70.94 L403.45,70.01 L405.29,69.09 L407.13,68.18 L408.97,67.27 L410.81,66.38 L412.65,65.49 L414.49,64.62 L416.33,63.75 L418.17,62.90 L420.01,62.05 L421.85,61.21 L423.69,60.39 L425.53,59.57 L427.37,58.76 L429.21,57.96 L431.05,57.17 L432.89,56.39 L434.73,55.62 L436.57,54.86 L438.41,54.10 L440.25,53.36 L442.09,52.63 L443.93,51.90 L445.77,51.19 L447.61,50.49 L449.45,49.79 L451.29,49.10 L453.13,48.43 L454.97,47.76 L456.81,47.10 L458.65,46.46 L460.49,45.82 L462.33,45.19 L464.16,44.57 L466.00,43.96 L467.84,43.36 L469.68,42.77 L471.52,42.18 L473.36,41.61 L475.20,41.05 L477.04,40.50 L478.88,39.95 L480.72,39.42 L482.56,38.89 L484.40,38.38 L486.24,37.87 L488.08,37.38 L489.92,36.89 L491.76,36.41 L493.60,35.94 L495.44,35.48 L497.28,35.04 L499.12,34.60 L500.96,34.17 L502.80,33.74 L504.64,33.33 L506.48,32.93 L508.32,32.54 L510.16,32.16 L512.00,31.78 L513.84,31.42 L515.68,31.07 L517.52,30.72 L519.36,30.38 L521.20,30.06 L523.04,29.74 L524.88,29.43 L526.72,29.14 L528.56,28.85 L530.40,28.57 L532.24,28.30 L534.08,28.04 L535.92,27.79 L537.76,27.55 L539.59,27.32 L541.43,27.10 L543.27,26.88 L545.11,26.68 L546.95,26.49 L548.79,26.30 L550.63,26.13 L552.47,25.96 L554.31,25.81 L556.15,25.66 L557.99,25.53 L559.83,25.40 L561.67,25.28 L563.51,25.17 L565.35,25.07 L567.19,24.98 L569.03,24.90 L570.87,24.83 L572.71,24.77 L574.55,24.72 L576.39,24.68 L578.23,24.65 L580.07,24.62 L581.91,24.61 L583.75,24.61 L585.59,24.61 L587.43,24.63 L589.27,24.65 L591.11,24.69 L592.95,24.73" stroke="#000" stroke-width="2.2"/>
</g>
<rect x="55.5" y="3.7" width="542.0" height="365.8" fill="none" stroke="#333" stroke-width="1.05"/>
<path d="M70.50,369.5V361.0M70.50,3.7V12.2M99.50,369.5V365.0M99.50,3.7V8.2M128.50,369.5V365.0M128.50,3.7V8.2M158.50,369.5V365.0M158.50,3.7V8.2M187.50,369.5V365.0M187.50,3.7V8.2M216.50,369.5V361.0M216.50,3.7V12.2M245.50,369.5V365.0M245.50,3.7V8.2M275.50,369.5V365.0M275.50,3.7V8.2M304.50,369.5V365.0M304.50,3.7V8.2M333.50,369.5V365.0M333.50,3.7V8.2M363.50,369.5V361.0M363.50,3.7V12.2M392.50,369.5V365.0M392.50,3.7V8.2M421.50,369.5V365.0M421.50,3.7V8.2M450.50,369.5V365.0M450.50,3.7V8.2M480.50,369.5V365.0M480.50,3.7V8.2M509.50,369.5V361.0M509.50,3.7V12.2M538.50,369.5V365.0M538.50,3.7V8.2M568.50,369.5V365.0M568.50,3.7V8.2M55.5,336.50H60.0M597.5,336.50H593.0M55.5,298.50H64.0M597.5,298.50H589.0M55.5,261.50H60.0M597.5,261.50H593.0M55.5,224.50H64.0M597.5,224.50H589.0M55.5,186.50H60.0M597.5,186.50H593.0M55.5,149.50H64.0M597.5,149.50H589.0M55.5,112.50H60.0M597.5,112.50H593.0M55.5,74.50H64.0M597.5,74.50H589.0M55.5,37.50H60.0M597.5,37.50H593.0" stroke="#333" stroke-width="1.05" fill="none"/>
<text x="70.6" y="391.6" font-family="DejaVu Serif, Liberation Serif, serif" font-size="17" text-anchor="middle" fill="#000">8</text>
<text x="217.0" y="391.6" font-family="DejaVu Serif, Liberation Serif, serif" font-size="17" text-anchor="middle" fill="#000">9</text>
<text x="363.4" y="391.6" font-family="DejaVu Serif, Liberation Serif, serif" font-size="17" text-anchor="middle" fill="#000">10</text>
<text x="509.8" y="391.6" font-family="DejaVu Serif, Liberation Serif, serif" font-size="17" text-anchor="middle" fill="#000">11</text>
<text transform="translate(43.4,298.8) rotate(-90)" x="0" y="0" font-family="DejaVu Serif, Liberation Serif, serif" font-size="17" text-anchor="middle" fill="#000">8.4</text>
<text transform="translate(43.4,224.1) rotate(-90)" x="0" y="0" font-family="DejaVu Serif, Liberation Serif, serif" font-size="17" text-anchor="middle" fill="#000">8.6</text>
<text transform="translate(43.4,149.4) rotate(-90)" x="0" y="0" font-family="DejaVu Serif, Liberation Serif, serif" font-size="17" text-anchor="middle" fill="#000">8.8</text>
<text transform="translate(43.4,74.7) rotate(-90)" x="0" y="0" font-family="DejaVu Serif, Liberation Serif, serif" font-size="17" text-anchor="middle" fill="#000">9</text>
<g font-family="DejaVu Serif, Liberation Serif, serif" fill="#000">
<text x="251.5" y="427.2" font-size="16.5">log</text>
<text transform="translate(287.8,428.3) scale(1.2,1.17)" font-size="16.5">(</text>
<text x="294.3" y="427.2" font-size="16.5">Mass</text>
<text transform="translate(337.6,433.4) scale(1.2,1)" font-size="12">lum</text>
<text transform="translate(366.2,430.9) skewX(-10)" font-family="Liberation Serif, serif" font-size="27">/</text>
<text transform="translate(377,427.2) scale(0.84,1)" font-size="16.5">M</text>
<text x="390.8" y="433.3" font-family="DejaVu Sans, sans-serif" font-size="13.5">⊙</text>
<text transform="translate(402.0,428.1) scale(1.3,1.2)" font-size="16.5">)</text>
</g>
<g font-family="DejaVu Serif, Liberation Serif, serif" fill="#000" font-size="16.5">
<text transform="translate(16.7,309.4) rotate(-90)" letter-spacing="1.17">12+log(O/H)</text>
<text transform="translate(16.7,185.6) rotate(-90)" letter-spacing="1.04">center</text>
<text transform="translate(16.7,115.3) rotate(-90)" letter-spacing="0.73">+0.15</text>
</g>
</svg>
</body></html>
